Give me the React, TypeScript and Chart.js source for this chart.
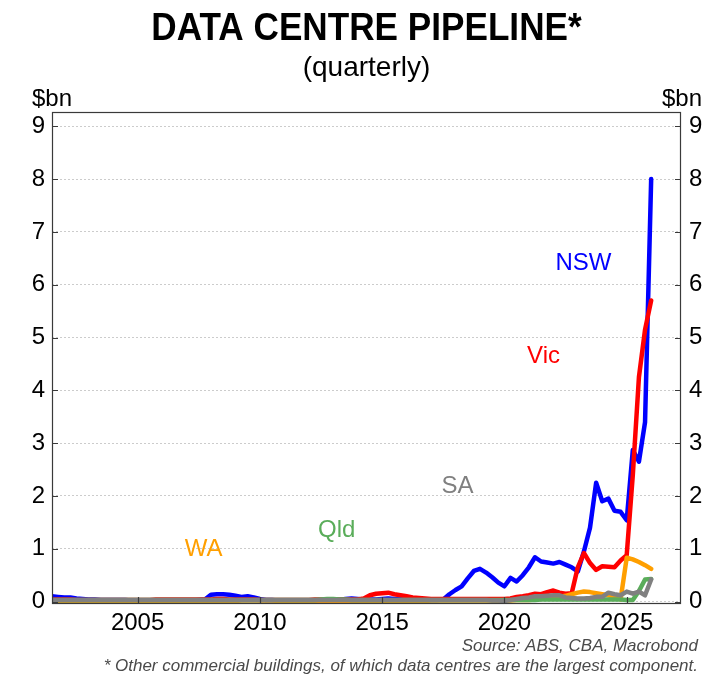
import React, { useEffect, useRef } from "react";
import { Chart, registerables } from "chart.js";

Chart.register(...registerables);

// Quarterly dates (decimal years), first observation 2001.5, 99 quarters
const FIRST_QUARTER = 2001.5;
const N_QUARTERS = 99;
const quarters: number[] = Array.from({ length: N_QUARTERS }, (_, i) => FIRST_QUARTER + 0.25 * i);

// $bn, quarterly values
const nsw = [
  0.10, 0.09,
  0.08, 0.08, 0.06, 0.05, // 2002
  0.04, 0.04, 0.03, 0.03, // 2003
  0.03, 0.03, 0.03, 0.02, // 2004
  0.02, 0.02, 0.02, 0.02, // 2005
  0.02, 0.02, 0.02, 0.02, // 2006
  0.02, 0.02, 0.03, 0.04, // 2007
  0.13, 0.14, 0.14, 0.13, // 2008
  0.11, 0.09, 0.10, 0.08, // 2009
  0.05, 0.03, 0.03, 0.02, // 2010
  0.02, 0.02, 0.02, 0.02, // 2011
  0.02, 0.02, 0.02, 0.03, // 2012
  0.03, 0.03, 0.05, 0.06, // 2013
  0.05, 0.04, 0.04, 0.04, // 2014
  0.05, 0.06, 0.05, 0.05, // 2015
  0.04, 0.04, 0.03, 0.03, // 2016
  0.03, 0.03, 0.04, 0.14, // 2017
  0.22, 0.29, 0.44, 0.58, // 2018
  0.62, 0.55, 0.46, 0.36, // 2019
  0.29, 0.45, 0.38, 0.50, // 2020
  0.65, 0.84, 0.76, 0.74, // 2021
  0.72, 0.75, 0.70, 0.65, // 2022
  0.57, 0.95, 1.40, 2.25, // 2023
  1.90, 1.95, 1.72, 1.70, // 2024
  1.54, 2.87, 2.65, 3.40, // 2025
  8.00,                   // 2026
];

const vic = [
  0.04, 0.04,
  0.04, 0.04, 0.03, 0.03, // 2002
  0.03, 0.03, 0.03, 0.03, // 2003
  0.03, 0.03, 0.03, 0.03, // 2004
  0.03, 0.03, 0.03, 0.04, // 2005
  0.04, 0.04, 0.04, 0.04, // 2006
  0.04, 0.04, 0.04, 0.04, // 2007
  0.04, 0.05, 0.05, 0.04, // 2008
  0.04, 0.04, 0.04, 0.04, // 2009
  0.03, 0.03, 0.03, 0.03, // 2010
  0.03, 0.03, 0.03, 0.03, // 2011
  0.03, 0.04, 0.04, 0.04, // 2012
  0.04, 0.04, 0.04, 0.04, // 2013
  0.04, 0.06, 0.12, 0.15, // 2014
  0.16, 0.17, 0.14, 0.12, // 2015
  0.10, 0.08, 0.07, 0.06, // 2016
  0.05, 0.05, 0.05, 0.05, // 2017
  0.05, 0.05, 0.05, 0.05, // 2018
  0.05, 0.05, 0.05, 0.05, // 2019
  0.05, 0.06, 0.09, 0.10, // 2020
  0.12, 0.15, 0.14, 0.18, // 2021
  0.21, 0.17, 0.15, 0.16, // 2022
  0.65, 0.92, 0.73, 0.60, // 2023
  0.67, 0.66, 0.65, 0.78, // 2024
  0.88, 2.40, 4.25, 5.15, // 2025
  5.70,                   // 2026
];

const qld = [
  0.03, 0.03,
  0.03, 0.03, 0.03, 0.03, // 2002
  0.03, 0.03, 0.03, 0.03, // 2003
  0.03, 0.03, 0.03, 0.03, // 2004
  0.03, 0.03, 0.03, 0.03, // 2005
  0.03, 0.03, 0.03, 0.03, // 2006
  0.03, 0.03, 0.03, 0.03, // 2007
  0.03, 0.03, 0.03, 0.03, // 2008
  0.03, 0.03, 0.03, 0.03, // 2009
  0.03, 0.03, 0.03, 0.03, // 2010
  0.03, 0.03, 0.03, 0.03, // 2011
  0.03, 0.03, 0.04, 0.05, // 2012
  0.05, 0.04, 0.04, 0.03, // 2013
  0.03, 0.03, 0.03, 0.03, // 2014
  0.03, 0.03, 0.03, 0.03, // 2015
  0.03, 0.03, 0.03, 0.03, // 2016
  0.03, 0.03, 0.03, 0.03, // 2017
  0.03, 0.03, 0.03, 0.03, // 2018
  0.03, 0.03, 0.03, 0.03, // 2019
  0.03, 0.03, 0.03, 0.03, // 2020
  0.03, 0.03, 0.04, 0.04, // 2021
  0.04, 0.04, 0.04, 0.04, // 2022
  0.04, 0.04, 0.04, 0.04, // 2023
  0.04, 0.04, 0.04, 0.04, // 2024
  0.03, 0.03, 0.20, 0.42, // 2025
  0.43,                   // 2026
];

const wa = [
  0.01, 0.01,
  0.01, 0.01, 0.01, 0.00, // 2002
  0.00, 0.00, 0.00, 0.00, // 2003
  0.00, 0.00, 0.01, 0.01, // 2004
  0.01, 0.01, 0.01, 0.01, // 2005
  0.01, 0.01, 0.01, 0.01, // 2006
  0.01, 0.01, 0.01, 0.01, // 2007
  0.01, 0.01, 0.01, 0.01, // 2008
  0.01, 0.02, 0.02, 0.02, // 2009
  0.02, 0.02, 0.02, 0.01, // 2010
  0.01, 0.01, 0.01, 0.01, // 2011
  0.01, 0.01, 0.01, 0.01, // 2012
  0.01, 0.01, 0.00, 0.00, // 2013
  0.00, 0.00, 0.01, 0.01, // 2014
  0.01, 0.01, 0.01, 0.01, // 2015
  0.01, 0.01, 0.01, 0.01, // 2016
  0.02, 0.02, 0.02, 0.02, // 2017
  0.02, 0.02, 0.02, 0.02, // 2018
  0.02, 0.02, 0.02, 0.02, // 2019
  0.02, 0.02, 0.03, 0.03, // 2020
  0.03, 0.04, 0.06, 0.08, // 2021
  0.09, 0.09, 0.11, 0.14, // 2022
  0.17, 0.19, 0.18, 0.16, // 2023
  0.14, 0.12, 0.09, 0.04, // 2024
  0.83, 0.80, 0.75, 0.69, // 2025
  0.62,                   // 2026
];

const sa = [
  0.03, 0.03,
  0.03, 0.03, 0.03, 0.03, // 2002
  0.03, 0.03, 0.03, 0.03, // 2003
  0.03, 0.03, 0.03, 0.03, // 2004
  0.03, 0.03, 0.03, 0.03, // 2005
  0.03, 0.03, 0.03, 0.03, // 2006
  0.03, 0.03, 0.03, 0.03, // 2007
  0.03, 0.03, 0.03, 0.03, // 2008
  0.03, 0.03, 0.03, 0.03, // 2009
  0.03, 0.03, 0.03, 0.03, // 2010
  0.03, 0.03, 0.03, 0.03, // 2011
  0.03, 0.03, 0.03, 0.03, // 2012
  0.03, 0.03, 0.03, 0.03, // 2013
  0.03, 0.03, 0.03, 0.03, // 2014
  0.03, 0.03, 0.03, 0.03, // 2015
  0.03, 0.03, 0.03, 0.03, // 2016
  0.03, 0.03, 0.03, 0.03, // 2017
  0.03, 0.03, 0.03, 0.03, // 2018
  0.03, 0.03, 0.02, 0.02, // 2019
  0.01, 0.03, 0.05, 0.07, // 2020
  0.08, 0.10, 0.10, 0.11, // 2021
  0.12, 0.12, 0.08, 0.07, // 2022
  0.06, 0.06, 0.07, 0.09, // 2023
  0.09, 0.17, 0.14, 0.12, // 2024
  0.19, 0.15, 0.19, 0.12, // 2025
  0.42,                   // 2026
];

const xTickYears = [2005, 2010, 2015, 2020, 2025];
const yTickValues = [0, 1, 2, 3, 4, 5, 6, 7, 8, 9];

const TITLE = "DATA CENTRE PIPELINE*";
const SUBTITLE = "(quarterly)";
const UNIT = "$bn";
const SOURCE = "Source: ABS, CBA, Macrobond";
const FOOTNOTE = "* Other commercial buildings, of which data centres are the largest component.";

const COLORS = {
  NSW: "#0000ff",
  Vic: "#ff0000",
  WA: "#ff9f00",
  Qld: "#5aad5a",
  SA: "#808080",
};

// Series-label anchors in data coordinates (year, $bn)
const seriesLabels = [
  { text: "NSW", x: 2023.23, y: 6.41, color: COLORS.NSW },
  { text: "Vic", x: 2021.6, y: 4.65, color: COLORS.Vic },
  { text: "SA", x: 2018.08, y: 2.19, color: COLORS.SA },
  { text: "Qld", x: 2013.14, y: 1.34, color: COLORS.Qld },
  { text: "WA", x: 2007.7, y: 0.99, color: COLORS.WA },
];

const FONT = '"Liberation Sans", Arial, Helvetica, sans-serif';

const decorPlugin = {
  id: "decor",
  afterDraw(chart: any) {
    const { ctx, chartArea: a, scales } = chart;
    const xs = scales.x;
    const ys = scales.y;
    ctx.save();

    // frame
    ctx.strokeStyle = "#3a3a3a";
    ctx.lineWidth = 1.2;
    ctx.strokeRect(a.left + 0.5, a.top + 0.5, a.right - a.left - 1, a.bottom - a.top - 1);

    // inward tick marks
    ctx.beginPath();
    xTickYears.forEach((yr) => {
      const px = Math.round(xs.getPixelForValue(yr)) + 0.5;
      ctx.moveTo(px, a.bottom);
      ctx.lineTo(px, a.bottom - 7);
    });
    yTickValues.forEach((v) => {
      const py = Math.round(ys.getPixelForValue(v)) + 0.5;
      ctx.moveTo(a.left, py);
      ctx.lineTo(a.left + 6, py);
      ctx.moveTo(a.right, py);
      ctx.lineTo(a.right - 6, py);
    });
    ctx.stroke();

    // series labels
    ctx.font = `24px ${FONT}`;
    ctx.textAlign = "center";
    ctx.textBaseline = "middle";
    seriesLabels.forEach((l) => {
      ctx.fillStyle = l.color;
      ctx.fillText(l.text, xs.getPixelForValue(l.x), ys.getPixelForValue(l.y));
    });

    const cx = (a.left + a.right) / 2;
    ctx.textBaseline = "alphabetic";
    ctx.fillStyle = "#000";

    // condensed bold title
    ctx.save();
    ctx.translate(cx, 40);
    ctx.scale(0.925, 1);
    ctx.font = `bold 38px ${FONT}`;
    ctx.fillText(TITLE, 0, 0);
    ctx.restore();

    ctx.font = `28px ${FONT}`;
    ctx.fillText(SUBTITLE, cx, 76);

    ctx.font = `24px ${FONT}`;
    ctx.textAlign = "left";
    ctx.fillText(UNIT, 32, 106);
    ctx.textAlign = "right";
    ctx.fillText(UNIT, 702, 106);

    ctx.fillStyle = "#4a4a4a";
    ctx.font = `italic 17px ${FONT}`;
    ctx.fillText(SOURCE, 698, 651);
    ctx.fillText(FOOTNOTE, 698, 671);
    ctx.restore();
  },
};

export default function App() {
  const canvasRef = useRef<HTMLCanvasElement | null>(null);

  useEffect(() => {
    document.body.style.margin = "0";
    const canvas = canvasRef.current;
    if (!canvas) return;

    const mk = (label: string, values: number[], color: string) => ({
      label,
      data: values.map((v, i) => ({ x: quarters[i], y: v })),
      borderColor: color,
      backgroundColor: color,
      borderWidth: 4.5,
      pointRadius: 0,
      tension: 0,
      fill: false,
      borderJoinStyle: "round" as const,
      borderCapStyle: "round" as const,
    });

    const chart = new Chart(canvas, {
      type: "line",
      data: {
        datasets: [
          mk("SA", sa, COLORS.SA),
          mk("Qld", qld, COLORS.Qld),
          mk("WA", wa, COLORS.WA),
          mk("Vic", vic, COLORS.Vic),
          mk("NSW", nsw, COLORS.NSW),
        ],
      },
      options: {
        animation: false,
        responsive: true,
        maintainAspectRatio: false,
        layout: { padding: { top: 112, left: 0, right: 0, bottom: 0 } },
        plugins: {
          legend: { display: false },
          title: { display: false },
          tooltip: { enabled: false },
        },
        scales: {
          x: {
            type: "linear",
            min: 2001.5,
            max: 2027.22,
            afterBuildTicks: (s: any) => {
              s.ticks = xTickYears.map((v) => ({ value: v }));
            },
            afterFit: (s: any) => {
              s.height = 82;
            },
            grid: { display: false, drawTicks: false },
            border: { display: false },
            ticks: {
              callback: (v: any) => String(v),
              color: "#000",
              font: { family: FONT, size: 24 },
              padding: 5,
              maxRotation: 0,
              autoSkip: false,
            },
          },
          y: {
            type: "linear",
            position: "left",
            min: -0.045,
            max: 9.27,
            afterBuildTicks: (s: any) => {
              s.ticks = yTickValues.map((v) => ({ value: v }));
            },
            afterFit: (s: any) => {
              s.width = 52;
            },
            grid: { display: true, drawTicks: false, color: "#cccccc", lineWidth: 1 },
            border: { display: false, dash: [2, 2] },
            ticks: {
              callback: (v: any) => String(v),
              color: "#000",
              font: { family: FONT, size: 24 },
              padding: 7,
            },
          },
          y2: {
            type: "linear",
            position: "right",
            min: -0.045,
            max: 9.27,
            afterBuildTicks: (s: any) => {
              s.ticks = yTickValues.map((v) => ({ value: v }));
            },
            afterFit: (s: any) => {
              s.width = 36;
            },
            grid: { display: false, drawTicks: false },
            border: { display: false },
            ticks: {
              callback: (v: any) => String(v),
              color: "#000",
              font: { family: FONT, size: 24 },
              padding: 8,
            },
          },
        },
      },
      plugins: [decorPlugin],
    });

    return () => chart.destroy();
  }, []);

  return (
    <div style={{ position: "relative", width: 717, height: 686 }}>
      <canvas ref={canvasRef} />
    </div>
  );
}
